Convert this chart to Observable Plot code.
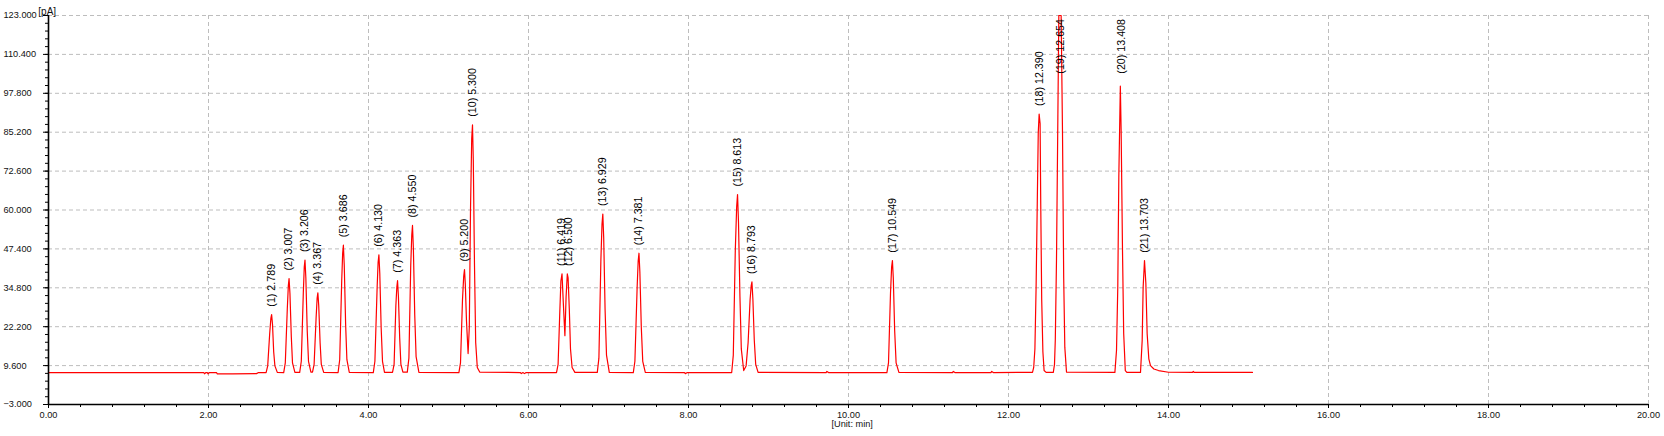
<!DOCTYPE html>
<html>
<head>
<meta charset="utf-8">
<script src="https://cdn.jsdelivr.net/npm/d3@7"></script>
<script src="https://cdn.jsdelivr.net/npm/@observablehq/plot@0.6"></script>
<style>
  html, body { margin: 0; padding: 0; background: #fff; }
  #chart svg { display: block; }
</style>
</head>
<body>
<div id="chart"></div>
<script>
// ---- Data ----
const peakNumbers = [1, 2, 3, 4, 5, 6, 7, 8, 9, 10, 11, 12, 13, 14, 15, 16, 17, 18, 19, 20, 21];
const peakTimes = [2.789, 3.007, 3.206, 3.367, 3.686, 4.130, 4.363, 4.550, 5.200, 5.300, 6.419, 6.500, 6.929, 7.381, 8.613, 8.793, 10.549, 12.390, 12.654, 13.408, 13.703];
const peakHeights = [26.1, 37.8, 43.8, 33.2, 48.6, 45.5, 37.1, 55.0, 40.7, 87.6, 39.3, 39.3, 58.7, 46.0, 65.0, 36.7, 43.6, 91.1, 123.0, 100.1, 43.6];

// Signal trace [time (min), signal (pA)]
const tracePoints = [
  [0, 7.35], [1.94, 7.35], [1.95, 6.95], [1.965, 7.3], [1.985, 7.3], [1.995, 6.9], [2.01, 7.3], [2.10, 7.3], [2.11, 6.95], [2.30, 6.95], [2.60, 7.0], [2.62, 7.3], [2.72, 7.35],
  [2.74, 9.5], [2.765, 20.0], [2.78, 25.0], [2.789, 26.1], [2.80, 23.0], [2.815, 14.0], [2.83, 9.5], [2.86, 7.4], [2.94, 7.35],
  [2.96, 10.5], [2.985, 28.0], [2.998, 35.5], [3.007, 37.8], [3.018, 33.0], [3.035, 19.0], [3.05, 10.5], [3.08, 7.4], [3.14, 7.4],
  [3.16, 11.0], [3.185, 33.0], [3.197, 41.5], [3.206, 43.8], [3.217, 38.0], [3.234, 21.0], [3.25, 11.0], [3.28, 7.5], [3.30, 7.5],
  [3.32, 10.0], [3.345, 25.0], [3.358, 31.5], [3.367, 33.2], [3.378, 29.0], [3.395, 17.0], [3.41, 10.0], [3.44, 7.4], [3.62, 7.35],
  [3.64, 11.5], [3.665, 37.0], [3.677, 46.0], [3.686, 48.6], [3.697, 42.0], [3.714, 23.0], [3.73, 11.5], [3.76, 7.4], [4.06, 7.35],
  [4.08, 11.0], [4.108, 35.0], [4.12, 43.0], [4.13, 45.5], [4.141, 39.5], [4.158, 22.0], [4.175, 11.0], [4.20, 7.4], [4.30, 7.4],
  [4.32, 10.0], [4.342, 29.0], [4.354, 35.0], [4.363, 37.1], [4.374, 32.0], [4.39, 18.5], [4.405, 10.0], [4.43, 7.5], [4.485, 7.5],
  [4.505, 12.0], [4.528, 42.0], [4.541, 52.0], [4.55, 55.0], [4.561, 47.5], [4.578, 26.0], [4.595, 12.5], [4.63, 7.4], [5.13, 7.35],
  [5.15, 10.5], [5.175, 31.0], [5.19, 38.5], [5.20, 40.7], [5.21, 36.0], [5.225, 24.0], [5.245, 13.5], [5.26, 22.0], [5.275, 60.0], [5.29, 83.0], [5.30, 87.6], [5.31, 76.0], [5.325, 42.0], [5.34, 17.0], [5.36, 9.0], [5.39, 7.5],
  [5.90, 7.35], [5.91, 7.0], [5.93, 7.35], [5.95, 7.0], [5.97, 7.35], [6.35, 7.35],
  [6.37, 10.0], [6.39, 26.0], [6.405, 37.0], [6.419, 39.3], [6.435, 30.0], [6.455, 19.3], [6.47, 32.0], [6.485, 39.3], [6.495, 38.0], [6.51, 28.0], [6.525, 15.0], [6.545, 9.0], [6.58, 7.4], [6.86, 7.4],
  [6.88, 12.0], [6.905, 44.0], [6.919, 55.5], [6.929, 58.7], [6.94, 51.0], [6.957, 28.0], [6.975, 13.0], [7.01, 7.4], [7.31, 7.35],
  [7.33, 11.0], [7.358, 35.0], [7.371, 43.5], [7.381, 46.0], [7.392, 40.0], [7.41, 22.0], [7.428, 11.0], [7.46, 7.4], [7.95, 7.3], [7.96, 7.0], [7.98, 7.3], [8.54, 7.35],
  [8.56, 13.0], [8.585, 47.0], [8.602, 61.0], [8.613, 65.0], [8.625, 56.0], [8.643, 32.0], [8.66, 15.0], [8.69, 8.0], [8.72, 9.5], [8.745, 17.0], [8.77, 31.0], [8.784, 35.5], [8.793, 36.7], [8.805, 31.0], [8.822, 18.0], [8.84, 10.0], [8.87, 7.4],
  [9.72, 7.35], [9.73, 7.7], [9.75, 7.35], [10.48, 7.35],
  [10.50, 10.5], [10.525, 33.0], [10.539, 41.5], [10.549, 43.6], [10.56, 38.0], [10.577, 21.0], [10.595, 10.5], [10.63, 7.4],
  [11.30, 7.35], [11.31, 7.7], [11.33, 7.35], [11.78, 7.35], [11.79, 7.7], [11.81, 7.35], [12.30, 7.4],
  [12.315, 9.0], [12.33, 15.0], [12.345, 35.0], [12.36, 63.0], [12.372, 85.0], [12.383, 91.1], [12.395, 88.0], [12.403, 62.0], [12.415, 31.0], [12.43, 14.0], [12.445, 8.0], [12.47, 7.4], [12.56, 7.4],
  [12.575, 10.0], [12.585, 18.0], [12.60, 44.0], [12.617, 90.0], [12.629, 123.0], [12.658, 123.0], [12.675, 85.0], [12.69, 38.0], [12.704, 15.5], [12.725, 7.5], [13.33, 7.4],
  [13.35, 14.5], [13.366, 35.0], [13.379, 70.6], [13.398, 100.1], [13.408, 85.7], [13.425, 46.8], [13.44, 19.9], [13.46, 8.0], [13.48, 7.4], [13.65, 7.4],
  [13.671, 17.7], [13.683, 35.0], [13.70, 43.6], [13.717, 36.2], [13.733, 20.0], [13.754, 11.8], [13.775, 9.6], [13.817, 8.5], [13.875, 8.0], [14.0, 7.45], [14.30, 7.4], [14.31, 7.7], [14.32, 7.4], [15.05, 7.4]
];

const yTicks = [-3, 9.6, 22.2, 34.8, 47.4, 60, 72.6, 85.2, 97.8, 110.4, 123];
const xTicks = [0, 2, 4, 6, 8, 10, 12, 14, 16, 18, 20];
const yUnitLabel = "[pA]";
const xUnitLabel = "[Unit: min]";

// ---- Layout ----
const W = 1664, H = 436;
const mL = 48, mR = 16, mT = 15, mB = 32;
const pxPerUnit = (H - mT - mB) / (123 - (-3));

const yMinor = d3.range(0, 51).map(i => -3 + i * 2.52);
const xMinor = d3.range(0, 51).map(i => i * 0.4);

const labels = peakNumbers.map((n, i) => {
  const text = `(${n}) ${peakTimes[i].toFixed(3)}`;
  const bottomPx = mT + (123 - peakHeights[i]) * pxPerUnit - 8;
  const topPx = bottomPx - text.length * 5;
  return { t: peakTimes[i], h: peakHeights[i], text, pinned: topPx < 25 };
});

const tickFont = 9.2;
const textColor = "#111";

const chart = Plot.plot({
  width: W, height: H,
  marginLeft: mL, marginRight: mR, marginTop: mT, marginBottom: mB,
  style: { fontFamily: "'Liberation Sans', Arial, sans-serif", fontSize: "10px", background: "#fff", color: textColor, overflow: "visible" },
  x: { domain: [0, 20] },
  y: { domain: [-3, 123] },
  marks: [
    Plot.ruleY(yTicks.slice(1), { stroke: "#bdbdbd", strokeWidth: 1, strokeDasharray: "4,3" }),
    Plot.ruleX(xTicks.slice(1), { stroke: "#bdbdbd", strokeWidth: 1, strokeDasharray: "4,3" }),
    Plot.line(tracePoints, { x: d => d[0], y: d => d[1], stroke: "#ff0000", strokeWidth: 1.2 }),
    Plot.axisY({ ticks: yMinor, tickSize: 3, tickFormat: () => "", label: null, stroke: "#000" }),
    Plot.axisY({ ticks: yTicks, tickSize: 5, tickPadding: 40, textAnchor: "start", tickFormat: d3.format(".3f"), label: null, fontSize: tickFont, stroke: "#000", fill: textColor }),
    Plot.axisX({ ticks: xMinor, tickSize: 3, tickFormat: () => "", label: null, stroke: "#000" }),
    Plot.axisX({ ticks: xTicks, tickSize: 4, tickPadding: 3, tickFormat: d3.format(".2f"), label: null, fontSize: tickFont, stroke: "#000", fill: textColor }),
    Plot.ruleX([0], { stroke: "#000", strokeWidth: 1.6 }),
    Plot.ruleY([-3], { stroke: "#000", strokeWidth: 1.4 }),
    Plot.text(labels.filter(d => !d.pinned), { x: "t", y: "h", text: "text", rotate: -90, textAnchor: "start", lineAnchor: "middle", dy: -8, fontSize: 10.7, fill: "#000" }),
    Plot.text(labels.filter(d => d.pinned), { x: "t", y: () => 123, text: "text", rotate: -90, textAnchor: "end", lineAnchor: "middle", dy: 3.5, fontSize: 10.7, fill: "#000" }),
    Plot.text([yUnitLabel], { frameAnchor: "top-left", text: d => d, dx: -1.3, dy: -7.8, textAnchor: "middle", fontSize: 10, fill: textColor }),
    Plot.text([xUnitLabel], { frameAnchor: "bottom", text: d => d, dx: 3.7, dy: 22, fontSize: tickFont, fill: textColor })
  ]
});

document.getElementById("chart").appendChild(chart);
</script>
</body>
</html>
